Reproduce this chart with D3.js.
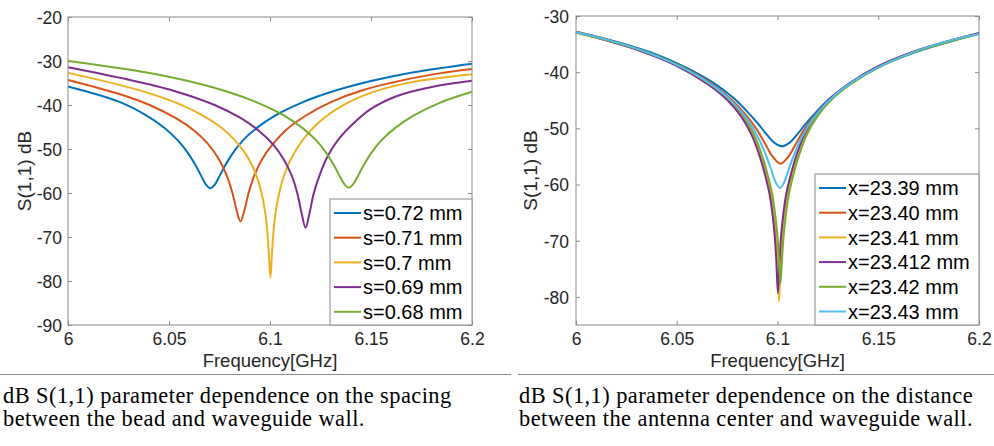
<!DOCTYPE html>
<html>
<head>
<meta charset="utf-8">
<script src="https://cdn.jsdelivr.net/npm/d3@7"></script>
<style>
  html, body { margin: 0; padding: 0; background: #fff; }
  svg { display: block; }
</style>
</head>
<body>
<main></main>
<script>
// ---- data ----
const freqTicks = [6, 6.05, 6.1, 6.15, 6.2];
const leftTicksY = [-90, -80, -70, -60, -50, -40, -30, -20];
const rightTicksY = [-80, -70, -60, -50, -40, -30];
const colors = ["#0072BD", "#D95319", "#EDB120", "#7E2F8E", "#77AC30", "#4DBEEE"];

const leftLabels = ["s=0.72 mm", "s=0.71 mm", "s=0.7 mm", "s=0.69 mm", "s=0.68 mm"];
const rightLabels = ["x=23.39 mm", "x=23.40 mm", "x=23.41 mm", "x=23.412 mm", "x=23.42 mm", "x=23.43 mm"];

// [frequency GHz, S11 dB]
const s072 = [[6.0,-35.8],[6.0105,-37.1],[6.0255,-39.3],[6.0385,-42.3],[6.0475,-45.1],[6.0545,-48.1],[6.0595,-51.0],[6.0635,-54.0],[6.0665,-56.6],[6.0685,-58.2],[6.0705,-58.9],[6.0725,-58.2],[6.0745,-56.6],[6.0775,-54.0],[6.0815,-51.0],[6.0865,-48.1],[6.0935,-45.2],[6.1025,-42.4],[6.1155,-39.5],[6.1305,-37.0],[6.1505,-34.5],[6.1705,-32.6],[6.2,-30.6]];
const s071 = [[6.0,-34.3],[6.0254,-37.5],[6.0404,-40.0],[6.0534,-43.0],[6.0624,-45.8],[6.0694,-48.9],[6.0744,-52.1],[6.0784,-55.8],[6.0814,-60.0],[6.0834,-63.8],[6.0854,-66.5],[6.0874,-63.8],[6.0894,-60.0],[6.0924,-55.8],[6.0964,-52.1],[6.1014,-48.9],[6.1084,-45.5],[6.1174,-42.5],[6.1304,-39.3],[6.1454,-36.7],[6.1654,-34.4],[6.1854,-32.7],[6.2,-31.8]];
const s070 = [[6.0,-32.7],[6.0302,-36.0],[6.0502,-38.9],[6.0652,-42.0],[6.0752,-44.9],[6.0822,-47.8],[6.0872,-50.6],[6.0912,-53.8],[6.0942,-57.3],[6.0962,-60.8],[6.0977,-64.7],[6.0987,-68.9],[6.0994,-73.5],[6.1002,-79.2],[6.101,-73.5],[6.1017,-68.9],[6.1027,-64.7],[6.1042,-60.8],[6.1062,-57.1],[6.1092,-53.4],[6.1132,-50.0],[6.1182,-46.8],[6.1252,-43.5],[6.1352,-40.3],[6.1502,-37.2],[6.1702,-34.8],[6.2,-33.0]];
const s069 = [[6.0,-31.4],[6.0276,-34.0],[6.0526,-36.8],[6.0726,-40.0],[6.0856,-43.0],[6.0946,-45.9],[6.1016,-49.0],[6.1066,-52.2],[6.1106,-55.9],[6.1136,-60.2],[6.1156,-64.5],[6.1176,-67.9],[6.1196,-64.5],[6.1216,-60.2],[6.1246,-55.9],[6.1286,-51.6],[6.1336,-48.0],[6.1406,-44.5],[6.1496,-41.0],[6.1626,-38.0],[6.18,-35.9],[6.2,-34.5]];
const s068 = [[6.0,-30.0],[6.039,-32.6],[6.059,-34.5],[6.079,-37.0],[6.094,-39.5],[6.107,-42.4],[6.116,-45.2],[6.123,-48.1],[6.128,-51.0],[6.132,-54.0],[6.135,-56.6],[6.137,-58.1],[6.139,-58.8],[6.141,-58.1],[6.143,-56.6],[6.146,-54.0],[6.15,-51.0],[6.155,-48.1],[6.162,-45.2],[6.171,-42.4],[6.184,-39.5],[6.2,-37.0]];

const x2339 = [[6.0,-32.8],[6.0172,-34.3],[6.0372,-36.5],[6.0542,-39.1],[6.0682,-41.9],[6.0782,-44.6],[6.0852,-47.1],[6.0902,-49.1],[6.0942,-50.9],[6.0982,-52.5],[6.1022,-53.2],[6.1062,-52.5],[6.1102,-50.9],[6.1142,-49.1],[6.1192,-47.1],[6.1262,-44.6],[6.1362,-41.9],[6.1502,-39.1],[6.1672,-36.6],[6.1872,-34.4],[6.2,-33.1]];
const x2340 = [[6.0,-32.8],[6.0165,-34.3],[6.0365,-36.6],[6.0535,-39.2],[6.0675,-42.1],[6.0775,-45.0],[6.0845,-47.7],[6.0895,-50.1],[6.0935,-52.5],[6.0975,-55.0],[6.1015,-56.3],[6.1055,-55.0],[6.1095,-52.5],[6.1135,-50.1],[6.1185,-47.7],[6.1255,-45.0],[6.1355,-42.1],[6.1495,-39.2],[6.1665,-36.6],[6.1865,-34.3],[6.2,-33.1]];
const x2341 = [[6.0,-32.9],[6.0308,-36.0],[6.0508,-38.9],[6.0658,-42.1],[6.0758,-45.0],[6.0828,-48.0],[6.0878,-51.2],[6.0918,-55.0],[6.0948,-58.8],[6.0968,-62.0],[6.0983,-65.8],[6.0993,-69.5],[6.1001,-74.0],[6.1008,-80.8],[6.1015,-74.0],[6.1023,-69.5],[6.1033,-65.8],[6.1048,-62.0],[6.1068,-58.8],[6.1098,-55.0],[6.1138,-51.2],[6.1188,-48.0],[6.1258,-45.0],[6.1358,-42.1],[6.1508,-38.9],[6.1708,-36.0],[6.2,-33.1]];
const x23412 = [[6.0,-32.9],[6.0302,-36.0],[6.0502,-38.9],[6.0652,-42.1],[6.0752,-45.0],[6.0822,-48.0],[6.0872,-51.2],[6.0912,-55.0],[6.0942,-58.8],[6.0962,-62.0],[6.0977,-65.8],[6.0987,-69.5],[6.0994,-73.5],[6.1002,-79.3],[6.101,-73.5],[6.1017,-69.5],[6.1027,-65.8],[6.1042,-62.0],[6.1062,-58.8],[6.1092,-55.0],[6.1132,-51.2],[6.1182,-48.0],[6.1252,-45.0],[6.1352,-42.1],[6.1502,-38.9],[6.1702,-36.0],[6.2,-33.0]];
const x2342 = [[6.0,-33.0],[6.0315,-36.0],[6.0515,-38.9],[6.0665,-42.1],[6.0765,-45.0],[6.0835,-48.0],[6.0885,-51.2],[6.0925,-55.0],[6.0955,-58.8],[6.0975,-62.0],[6.099,-65.8],[6.1,-69.3],[6.1007,-73.0],[6.1015,-77.6],[6.1023,-73.0],[6.103,-69.3],[6.104,-65.8],[6.1055,-62.0],[6.1075,-58.8],[6.1105,-55.0],[6.1145,-51.2],[6.1195,-48.0],[6.1265,-45.0],[6.1365,-42.1],[6.1515,-38.9],[6.1715,-36.0],[6.2,-33.2]];
const x2343 = [[6.0,-32.9],[6.0162,-34.3],[6.0362,-36.6],[6.0562,-39.8],[6.0692,-42.7],[6.0782,-45.5],[6.0852,-48.5],[6.0902,-51.5],[6.0942,-54.7],[6.0972,-57.7],[6.0992,-59.7],[6.1012,-60.6],[6.1032,-59.7],[6.1052,-57.7],[6.1082,-54.7],[6.1122,-51.5],[6.1172,-48.5],[6.1242,-45.5],[6.1332,-42.7],[6.1462,-39.8],[6.1662,-36.6],[6.1862,-34.3],[6.2,-33.2]];

const leftSeries = [s072, s071, s070, s069, s068];
const rightSeries = [x2339, x2340, x2341, x23412, x2342, x2343];

const captionLeft = ["dB S(1,1) parameter dependence on the spacing", "between the bead and waveguide wall."];
const captionRight = ["dB S(1,1) parameter dependence on the distance", "between the antenna center and waveguide wall."];

// ---- drawing ----
const svg = d3.select("main").append("svg")
  .attr("width", 994).attr("height", 446).attr("viewBox", "0 0 994 446");

const FONT = '"Liberation Sans", Arial, sans-serif';
const TXT = "#262626";
const AX = "#8a8a8a";

function panel(opt) {
  const x = d3.scaleLinear().domain([6, 6.2]).range([opt.x0, opt.x1]);
  const y = d3.scaleLinear().domain(opt.yDomain).range([opt.y1, opt.y0]);
  const g = svg.append("g");

  const ax = (a, tr) => g.append("g").attr("transform", tr).call(a)
    .call(s => s.select(".domain").remove())
    .call(s => s.selectAll(".tick line").attr("stroke", AX))
    .call(s => s.selectAll(".tick text").attr("font-size", 17.5).attr("font-family", FONT).attr("fill", TXT));

  ax(d3.axisBottom(x).tickValues(freqTicks).tickFormat(d => String(d)).tickSizeInner(-4).tickPadding(8),
     `translate(0,${opt.y1})`);
  ax(d3.axisTop(x).tickValues(freqTicks).tickFormat("").tickSizeInner(-4), `translate(0,${opt.y0})`);
  ax(d3.axisLeft(y).tickValues(opt.yTicks).tickFormat(d => String(d)).tickSizeInner(-4).tickPadding(opt.ypad),
     `translate(${opt.x0},0)`)
    .selectAll(".tick text").attr("dy", "0.36em");
  ax(d3.axisRight(y).tickValues(opt.yTicks).tickFormat("").tickSizeInner(-4), `translate(${opt.x1},0)`);

  const line = d3.line()
    .x(d => x(d[0]))
    .y(d => y(d[1]))
    .curve(d3.curveCatmullRom.alpha(0.5));

  g.append("g").selectAll("path")
    .data(opt.series)
    .join("path")
    .attr("fill", "none")
    .attr("stroke", (d, i) => colors[i])
    .attr("stroke-width", 2)
    .attr("stroke-linejoin", "round")
    .attr("d", line);

  g.append("rect")
    .attr("x", opt.x0).attr("y", opt.y0)
    .attr("width", opt.x1 - opt.x0).attr("height", opt.y1 - opt.y0)
    .attr("fill", "none").attr("stroke", AX).attr("stroke-width", 1);

  // axis titles
  g.append("text")
    .attr("x", (opt.x0 + opt.x1) / 2).attr("y", opt.y1 + 42)
    .attr("text-anchor", "middle")
    .attr("font-family", FONT).attr("font-size", 18.5).attr("fill", TXT)
    .text("Frequency[GHz]");
  g.append("text")
    .attr("transform", `translate(${opt.ylabX},${(opt.y0 + opt.y1) / 2}) rotate(-90)`)
    .attr("text-anchor", "middle")
    .attr("font-family", FONT).attr("font-size", 19).attr("fill", TXT)
    .text("S(1,1) dB");

  // legend
  const lg = g.append("g");
  lg.append("rect")
    .attr("x", opt.lx).attr("y", opt.ly)
    .attr("width", opt.x1 - opt.lx).attr("height", opt.y1 - opt.ly)
    .attr("fill", "#fff").attr("stroke", AX).attr("stroke-width", 1);
  const items = lg.selectAll("g.item")
    .data(opt.labels)
    .join("g")
    .attr("class", "item")
    .attr("transform", (d, i) => `translate(${opt.lx},${opt.ly + 14 + i * 24.7})`);
  items.append("line")
    .attr("x1", 4).attr("x2", 31)
    .attr("stroke", (d, i) => colors[i]).attr("stroke-width", 2);
  items.append("text")
    .attr("x", 33).attr("dy", "0.36em")
    .attr("font-family", FONT).attr("font-size", 20).attr("fill", "#000")
    .text(d => d);

  // caption
  svg.append("line")
    .attr("x1", opt.sepX0).attr("x2", opt.sepX1)
    .attr("y1", 374.5).attr("y2", 374.5)
    .attr("stroke", "#8c8c8c").attr("stroke-width", 1);
  svg.append("g").selectAll("text")
    .data(opt.caption)
    .join("text")
    .attr("x", opt.capX).attr("y", (d, i) => 403 + i * 23)
    .attr("font-family", '"Liberation Serif", "Times New Roman", serif')
    .attr("font-size", 22.4).attr("letter-spacing", 0.45).attr("fill", "#000")
    .text(d => d);
}

panel({
  x0: 68, x1: 472, y0: 17, y1: 325,
  yDomain: [-90, -20], yTicks: leftTicksY, ypad: 6,
  series: leftSeries, labels: leftLabels,
  lx: 330, ly: 199, ylabX: 31,
  sepX0: 0, sepX1: 511, capX: 3, caption: captionLeft
});

panel({
  x0: 576, x1: 979, y0: 16, y1: 325,
  yDomain: [-85, -30], yTicks: rightTicksY, ypad: 7,
  series: rightSeries, labels: rightLabels,
  lx: 815, ly: 174, ylabX: 537,
  sepX0: 518, sepX1: 994, capX: 519, caption: captionRight
});
</script>
</body>
</html>
